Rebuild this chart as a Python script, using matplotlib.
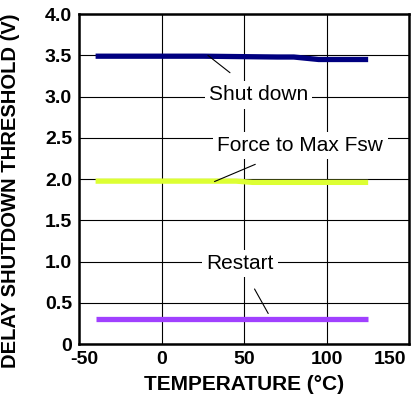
import matplotlib
matplotlib.use("Agg")
import matplotlib.pyplot as plt
import matplotlib.transforms as mtransforms

# data
temp = [-40, 25, 70, 80, 95, 125]
shutdown = [3.49, 3.49, 3.48, 3.48, 3.45, 3.45]
temp_force = [-40, 25, 45, 55, 125]
force_max = [1.975, 1.975, 1.975, 1.96, 1.96]
temp_restart = [-40, 125]
restart = [0.3, 0.3]

xticks = [-50, 0, 50, 100, 150]
yticks = [0, 0.5, 1.0, 1.5, 2.0, 2.5, 3.0, 3.5, 4.0]
ylabels = ["0", "0.5", "1.0", "1.5", "2.0", "2.5", "3.0", "3.5", "4.0"]

plt.rcParams['font.family'] = ['Liberation Sans', 'DejaVu Sans']
plt.rcParams['axes.unicode_minus'] = False

fig = plt.figure(figsize=(4.14, 4.04), dpi=100)
ax = fig.add_axes([0.191, 0.1485, 0.798, 0.8165])

ax.plot(temp, shutdown, color='#000080', lw=3.8, solid_capstyle='butt', zorder=3)
ax.plot(temp_force, force_max, color='#DDFF33', lw=3.8, solid_capstyle='butt', zorder=3)
ax.plot(temp_restart, restart, color='#A040FF', lw=3.8, solid_capstyle='butt', zorder=3)

box = dict(facecolor='white', edgecolor='none', pad=3)
ax.annotate('Shut down', xy=(28, 3.50), xytext=(58.5, 3.02), ha='center', va='center',
            fontsize=15, bbox=box, zorder=4,
            arrowprops=dict(arrowstyle='-', color='black', lw=0.8, shrinkA=10, shrinkB=0))
ax.annotate('Force to Max Fsw', xy=(32, 1.97), xytext=(84, 2.41), ha='center', va='center',
            fontsize=15, bbox=box, zorder=4,
            arrowprops=dict(arrowstyle='-', color='black', lw=0.8, shrinkA=10, shrinkB=0))
ax.annotate('Restart', xy=(64.5, 0.37), xytext=(47.5, 0.98), ha='center', va='center',
            fontsize=15, bbox=box, zorder=4,
            arrowprops=dict(arrowstyle='-', color='black', lw=0.8, shrinkA=10, shrinkB=0))

ax.set_xlim(-50, 150)
ax.set_ylim(0, 4)
ax.set_xticks(xticks)
ax.set_yticks(yticks)
ax.set_yticklabels(ylabels)
ax.grid(True, color='black', lw=0.8)
ax.set_axisbelow(True)
ax.tick_params(length=0, labelsize=14, pad=5)
for lab in ax.get_xticklabels() + ax.get_yticklabels():
    lab.set_fontweight('bold')
# reference pulls the end labels inward
xl = ax.get_xticklabels()
xl[0].set_transform(xl[0].get_transform() + mtransforms.ScaledTranslation(5/100, 0, fig.dpi_scale_trans))
xl[-1].set_transform(xl[-1].get_transform() + mtransforms.ScaledTranslation(-19/100, 0, fig.dpi_scale_trans))
for s in ax.spines.values():
    s.set_linewidth(1.8)

ax.set_xlabel('TEMPERATURE (°C)', fontsize=15, fontweight='bold', labelpad=5)
ax.set_ylabel('DELAY SHUTDOWN THRESHOLD (V)', fontsize=14.5, fontweight='bold')
ax.yaxis.set_label_coords(-0.18, 0.464)

fig.savefig('out.png', dpi=100)
